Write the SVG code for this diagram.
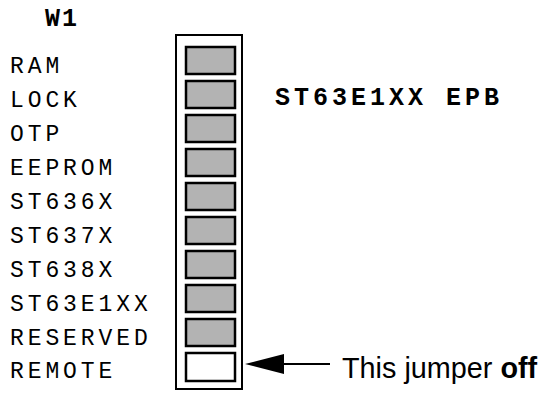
<svg xmlns="http://www.w3.org/2000/svg" width="544" height="393" viewBox="0 0 544 393">
<style>
.lbl{font-family:"Liberation Mono","Courier New",monospace;font-size:23px;letter-spacing:3.9px;fill:#000}
.bold{font-family:"Liberation Mono","Courier New",monospace;font-size:25px;font-weight:bold;fill:#000}
.cell{fill:#b3b3b3;stroke:#000;stroke-width:2.5}
.off{fill:#fff;stroke:#000;stroke-width:2.5}
.note{font-family:"Liberation Sans",Arial,sans-serif;font-size:28.8px;fill:#000}
</style>
<rect width="544" height="393" fill="#fff"/>
<text class="bold" x="45" y="26" letter-spacing="2">W1</text>
<g id="labels">
<text class="lbl" x="10" y="73">RAM</text>
<text class="lbl" x="10" y="107">LOCK</text>
<text class="lbl" x="10" y="141">OTP</text>
<text class="lbl" x="10" y="175">EEPROM</text>
<text class="lbl" x="10" y="209">ST636X</text>
<text class="lbl" x="10" y="243">ST637X</text>
<text class="lbl" x="10" y="277">ST638X</text>
<text class="lbl" x="10" y="311">ST63E1XX</text>
<text class="lbl" x="10" y="345">RESERVED</text>
<text class="lbl" x="10" y="378">REMOTE</text>
</g>
<g id="jumper-block">
<rect x="176" y="35" width="66" height="354" fill="none" stroke="#000" stroke-width="2"/>
<rect class="cell" x="186" y="47" width="49" height="27"/>
<rect class="cell" x="186" y="81" width="49" height="27"/>
<rect class="cell" x="186" y="115" width="49" height="27"/>
<rect class="cell" x="186" y="149" width="49" height="27"/>
<rect class="cell" x="186" y="183" width="49" height="27"/>
<rect class="cell" x="186" y="217" width="49" height="27"/>
<rect class="cell" x="186" y="251" width="49" height="27"/>
<rect class="cell" x="186" y="285" width="49" height="27"/>
<rect class="cell" x="186" y="319" width="49" height="27"/>
<rect class="off" x="186" y="353" width="49" height="28"/>
</g>
<g id="title">
<text class="bold" x="275" y="105" letter-spacing="4">ST63E1XX EPB</text>
</g>
<g id="connectors">
<line x1="282" y1="364" x2="330" y2="364" stroke="#000" stroke-width="2"/>
<polygon points="245,364 284,354 284,374" fill="#000"/>
</g>
<g id="note">
<text class="note" x="342" y="378">This jumper <tspan font-weight="bold">off</tspan></text>
</g>
</svg>
